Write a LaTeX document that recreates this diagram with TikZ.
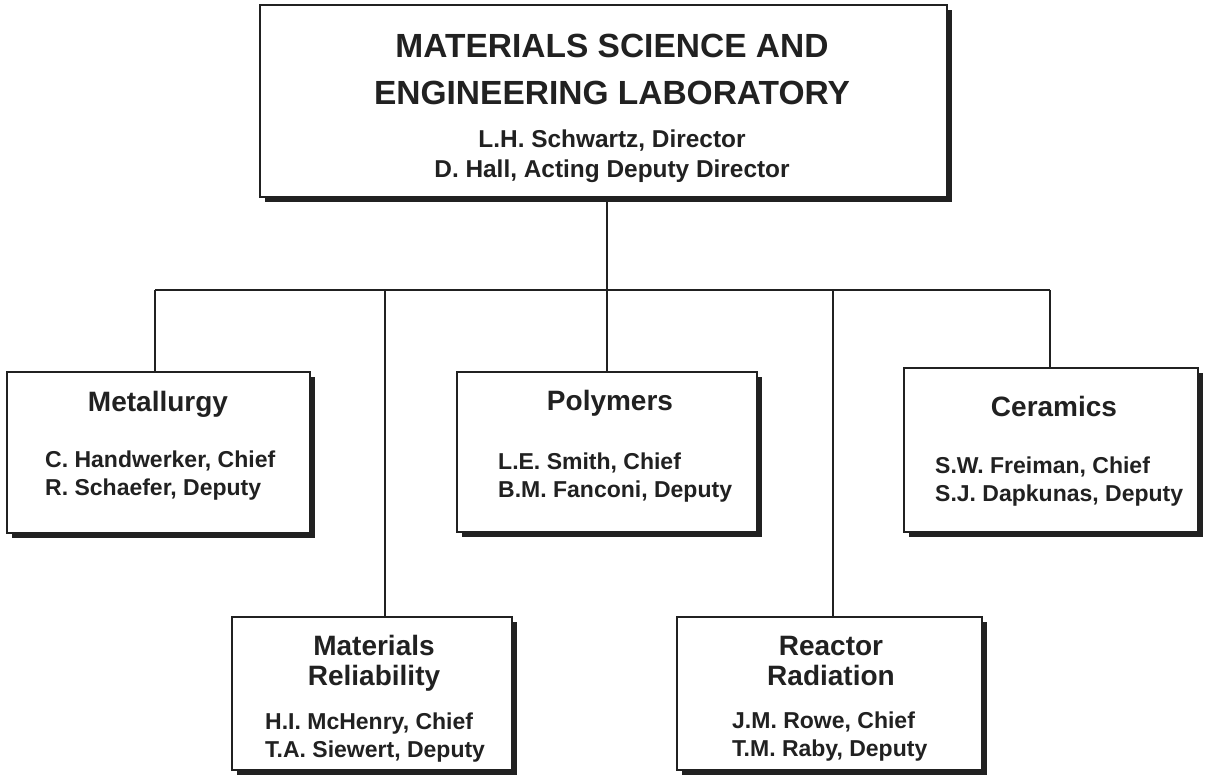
\documentclass[tikz,border=0pt]{standalone}
\usepackage{fontspec}
\setmainfont{Liberation Sans}
\usetikzlibrary{shadows}
\definecolor{ink}{gray}{0.13}
\begin{document}
\begin{tikzpicture}[x=1pt,y=-1pt,
  box/.style={draw=ink, line width=1.6pt, fill=white, inner sep=0pt,
    drop shadow={opacity=1, fill=ink, shadow xshift=5pt, shadow yshift=-5pt}},
  conn/.style={draw=ink, line width=1.8pt},
  titletext/.style={anchor=base, inner sep=0pt, text=ink, font=\bfseries\fontsize{33.5}{36}\selectfont},
  dirtext/.style={anchor=base, inner sep=0pt, text=ink, font=\bfseries\fontsize{24.4}{27}\selectfont},
  headtext/.style={anchor=base, inner sep=0pt, text=ink, font=\bfseries\fontsize{28}{30}\selectfont},
  nametext/.style={anchor=base west, inner sep=0pt, text=ink, font=\bfseries\fontsize{23}{25}\selectfont}]
\useasboundingbox (0,0) rectangle (1205,778);
\fill[white] (0,0) rectangle (1205,778);

% boxes
\node[box, minimum width=687pt, minimum height=192pt] (top) at (603.5,101) {};
\node[box, minimum width=303pt, minimum height=161pt] (met) at (158.5,452.5) {};
\node[box, minimum width=300pt, minimum height=160pt] (poly) at (607,452) {};
\node[box, minimum width=294pt, minimum height=164pt] (cer) at (1051,450) {};
\node[box, minimum width=280pt, minimum height=153pt] (rel) at (372,693.5) {};
\node[box, minimum width=305pt, minimum height=153pt] (rad) at (829.5,693.5) {};

% connectors
\coordinate (bstem) at (607,290);
\coordinate (bmet) at (155,290);
\coordinate (brel) at (385,290);
\coordinate (bpoly) at (607,290);
\coordinate (brad) at (833,290);
\coordinate (bcer) at (1050,290);
\draw[conn] (bstem |- top.south) -- (bstem);
\draw[conn] (bmet) -- (bcer);
\draw[conn] (bmet) -- (bmet |- met.north);
\draw[conn] (brel) -- (brel |- rel.north);
\draw[conn] (bpoly) -- (bpoly |- poly.north);
\draw[conn] (brad) -- (brad |- rad.north);
\draw[conn] (bcer) -- (bcer |- cer.north);

% top box text
\node[titletext] (t1) at (612,58) {MATERIALS SCIENCE AND};
\node[titletext] (t2) at (612,105) {ENGINEERING LABORATORY};
\node[dirtext] (t3) at (612,148) {L.H. Schwartz, Director};
\node[dirtext] (t4) at (612,178) {D. Hall, Acting Deputy Director};

% Metallurgy
\node[headtext] (mh) at (158,411) {Metallurgy};
\node[nametext] (mn1) at (45,467) {C. Handwerker, Chief};
\node[nametext] (mn2) at (45,495) {R. Schaefer, Deputy};

% Polymers
\node[headtext] (ph) at (610,410) {Polymers};
\node[nametext] (pn1) at (498,469) {L.E. Smith, Chief};
\node[nametext] (pn2) at (498,497) {B.M. Fanconi, Deputy};

% Ceramics
\node[headtext] (ch) at (1054,416) {Ceramics};
\node[nametext] (cn1) at (935,473) {S.W. Freiman, Chief};
\node[nametext] (cn2) at (935,501) {S.J. Dapkunas, Deputy};

% Materials Reliability
\node[headtext] (rh1) at (374,655) {Materials};
\node[headtext] (rh2) at (374,685) {Reliability};
\node[nametext] (rn1) at (265,729) {H.I. McHenry, Chief};
\node[nametext] (rn2) at (265,757) {T.A. Siewert, Deputy};

% Reactor Radiation
\node[headtext] (ah1) at (831,655) {Reactor};
\node[headtext] (ah2) at (831,685) {Radiation};
\node[nametext] (an1) at (732,728) {J.M. Rowe, Chief};
\node[nametext] (an2) at (732,756) {T.M. Raby, Deputy};
\end{tikzpicture}
\end{document}
